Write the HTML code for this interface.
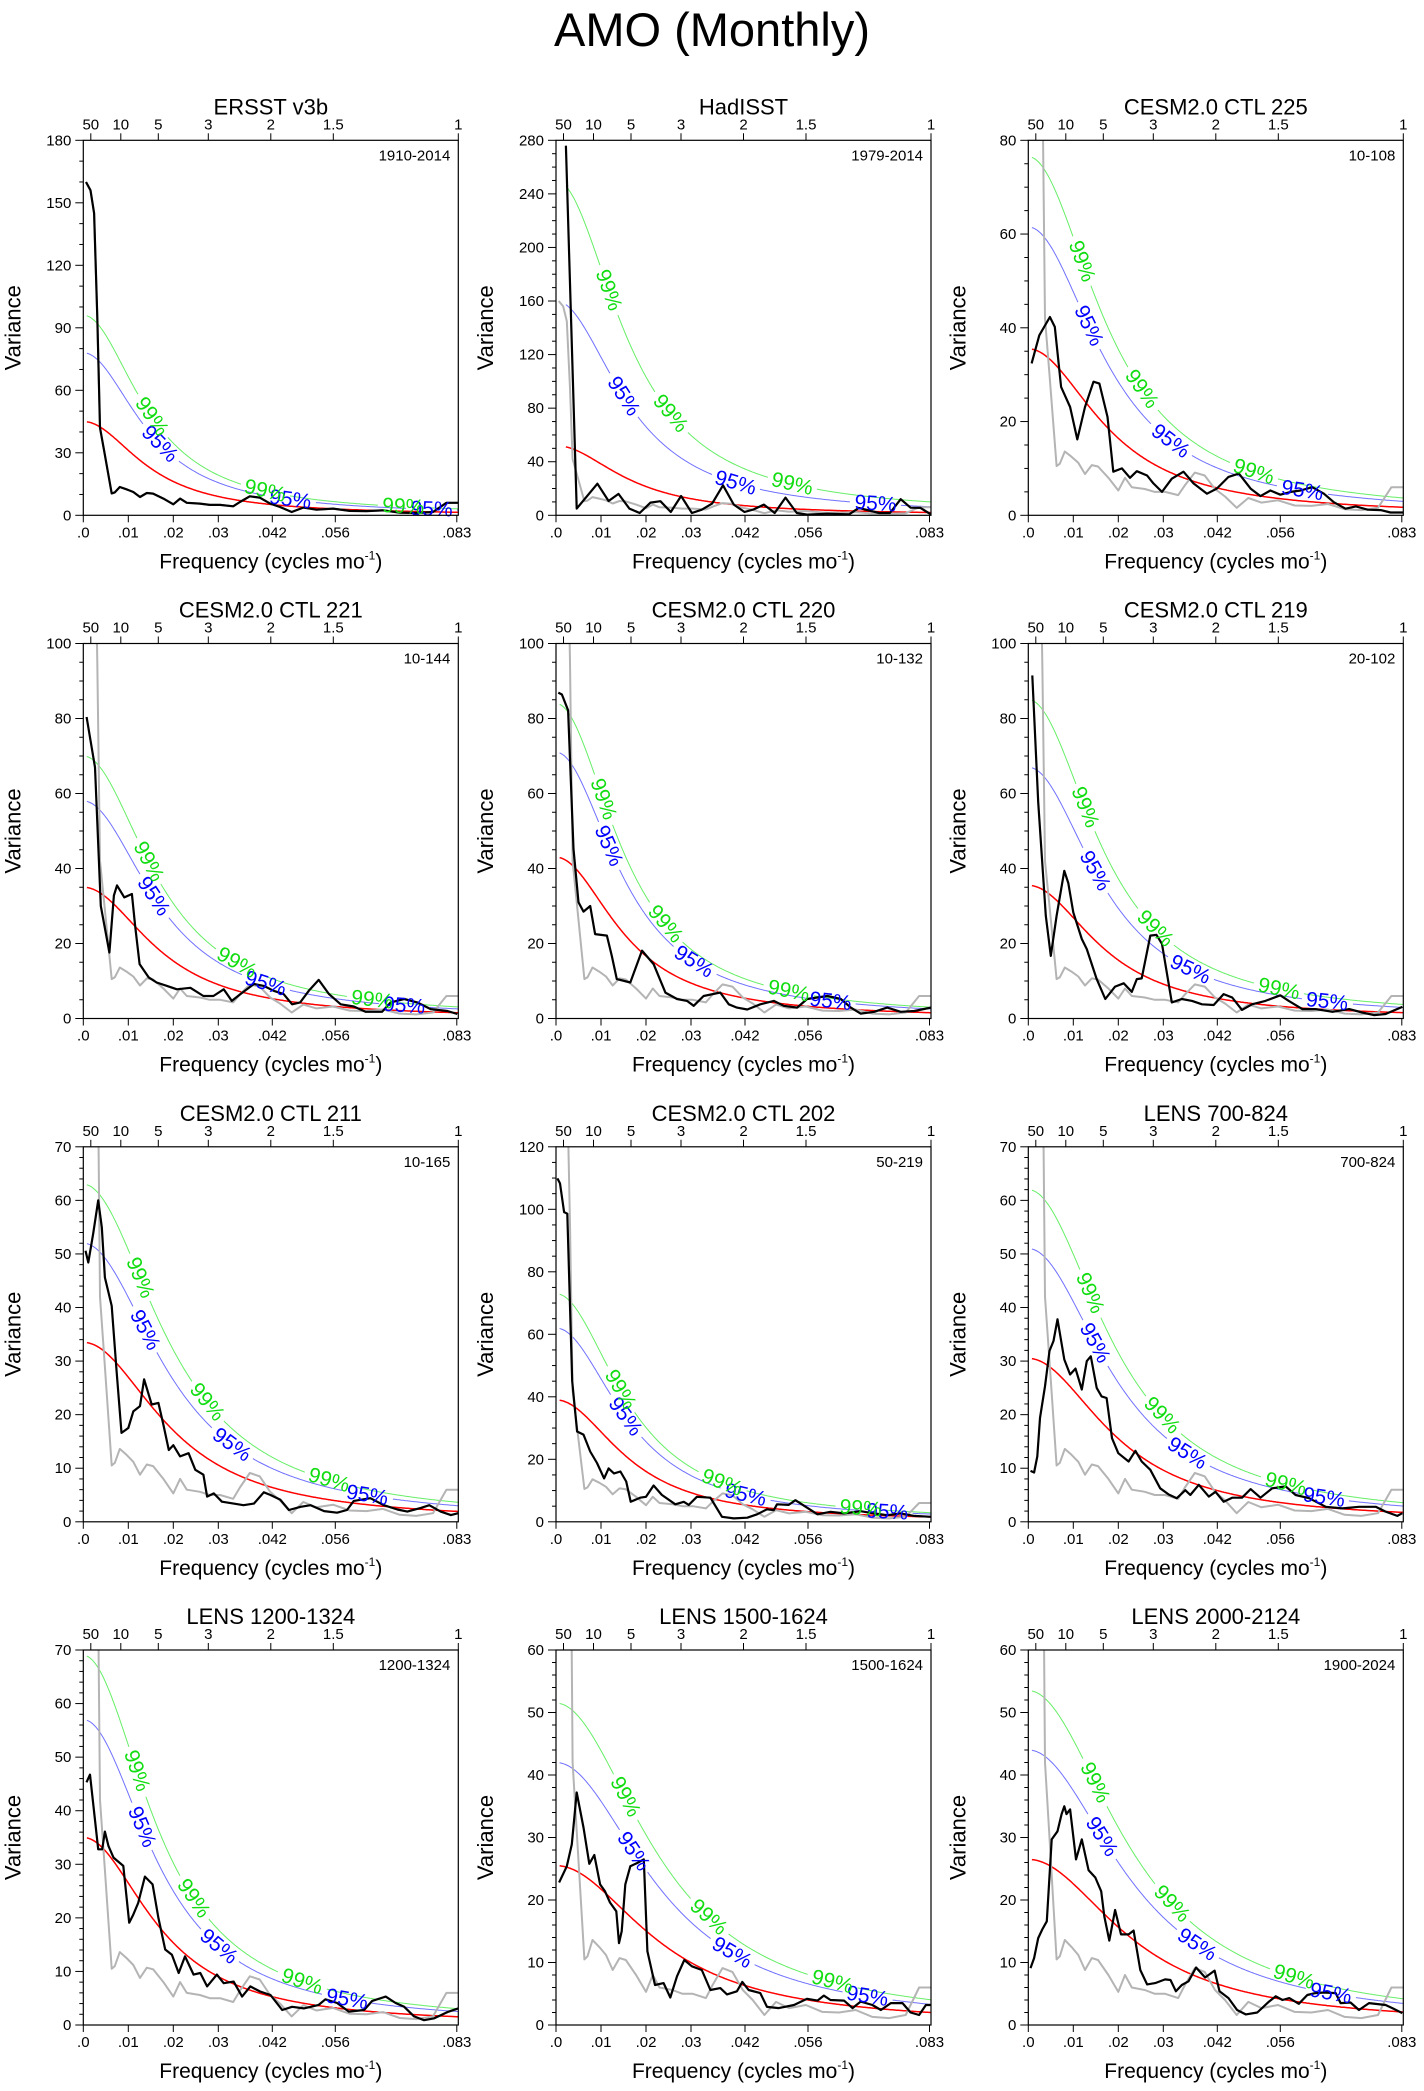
<!DOCTYPE html>
<html><head><meta charset="utf-8">
<style>
html,body{margin:0;padding:0;background:#fff;}
svg{display:block;font-family:"Liberation Sans",Arial,sans-serif;}
</style></head>
<body>
<svg id="chart" width="1424" height="2091" viewBox="0 0 1424 2091" xmlns="http://www.w3.org/2000/svg">
<text x="712" y="46" text-anchor="middle" font-size="47">AMO (Monthly)</text>
</svg>
<script>
// ---- Data (frequency in cycles/month, variance) ----
const f_ersst=[.0006,.0016,.0024,.0031,.0037,.0047,.0063,.007,.0081,.0096,.0111,.0126,.0141,.0155,.0178,.020,.0215,.023,.0259,.0281,.0304,.0333,.0348,.037,.0392,.0415,.0437,.0463,.0489,.0518,.0555,.0592,.0629,.0666,.0703,.074,.0777,.0807,.0833];
const v_ersst=[160,156,145,95,42,30,10.5,11,13.6,12.5,11.2,8.8,10.7,10.4,8,5.3,8,6,5.6,5,5,4.3,6.4,9.1,8.5,5.6,4,1.6,3.7,2.7,3.2,2.1,2,2.4,1.3,1.1,1.6,6,6];
const f_had=[.0022,.0046,.0092,.0117,.0139,.0163,.0186,.021,.0232,.0255,.0278,.0302,.0324,.0347,.0371,.0395,.0419,.044,.0462,.0486,.051,.0535,.0558,.0603,.0651,.0673,.0718,.0742,.0766,.0788,.081,.0833];
const v_had=[276,5,23.6,10.7,16,5,1.7,9.5,10.5,2.5,14.4,1.7,4.2,8.7,22.4,8,2.5,4.5,8,1.7,13.2,1.7,0.5,1.2,0.7,5.5,1.7,1.7,12,5.7,5.5,0.7];
const f_c225=[.00074,.00245,.0048,.0059,.0073,.0093,.0109,.0126,.0145,.0158,.0176,.0189,.0208,.0226,.0241,.0264,.0278,.0297,.0319,.0345,.0367,.0397,.0419,.0445,.0468,.0494,.0516,.0538,.056,.0583,.0605,.0631,.0657,.0679,.0705,.0728,.0754,.0783,.0805,.0833];
const v_c225=[32.4,38.4,42.3,40.2,27.4,23.1,16.2,23.1,28.5,28.1,21,9.3,10,8,9.4,8.5,6.8,5,7.8,9.3,6.8,4.6,5.7,8.2,8.9,5.7,4.1,5.3,4.4,5,5.3,6,4.6,2.8,1.4,1.9,1.2,1.1,0.6,0.6];
const f_c221=[.00074,.0026,.0039,.0058,.0068,.0075,.0091,.0108,.0115,.0125,.0145,.0163,.0186,.0208,.0238,.0267,.0289,.0312,.033,.0349,.0379,.0401,.0423,.0445,.0464,.0482,.0501,.0523,.0546,.0572,.0601,.0627,.0664,.0683,.0713,.0742,.0772,.0809,.0831];
const v_c221=[80.4,67,30,17.6,32.8,35.5,32.3,33.2,24.8,14.5,11,9.6,8.7,7.8,8.2,6,6,7.8,4.7,6.5,9.2,8.7,7.4,6.5,3.8,4.3,7.4,10.3,6.5,3.8,3.2,1.8,1.8,4.3,5.2,4.3,2.5,2,1.2];
const f_c220=[.0005,.0013,.0027,.0039,.005,.0061,.0076,.0087,.0113,.0124,.0135,.0165,.0191,.0217,.0243,.0269,.0291,.0306,.0328,.0365,.0384,.0402,.0425,.0454,.0484,.0506,.0536,.0558,.0603,.0633,.0655,.0677,.0707,.0736,.0766,.0796,.0833];
const v_c220=[86.9,86.4,82.2,45.2,31,28.5,30,22.5,22.1,16.7,10.5,9.6,18.1,14.5,6.9,5.2,4.7,3.4,6,6.9,3.8,2.9,2.4,3.8,4.7,3.4,2.9,5.2,6,5.2,2.9,1.3,1.8,2.9,1.8,2,2.9];
const f_c219=[.0009,.0022,.0039,.005,.0063,.008,.0089,.010,.0119,.013,.0152,.0171,.0193,.0212,.023,.0241,.0252,.0271,.0285,.0297,.0319,.0341,.0364,.0386,.0412,.0434,.0453,.0475,.0497,.0527,.056,.0579,.0609,.0638,.0676,.0713,.0742,.0768,.0794,.0831];
const v_c219=[91.5,57.7,27.4,16.7,27.4,39.4,36.1,28.3,21.2,18.5,10.5,5.2,8.5,9.4,7.1,10.5,10.7,22.1,22.3,19.9,4.3,5.2,4.7,3.8,3.6,6.5,5.6,2.3,3.8,4.7,6.2,4.7,2.5,2.5,1.8,2.5,1.6,0.9,1.2,3.1];
const f_c211=[.0005,.0011,.0022,.0033,.0041,.0048,.0063,.0074,.0085,.010,.0111,.0126,.0135,.0152,.0167,.0178,.019,.020,.0215,.0234,.0249,.0267,.0275,.029,.0308,.0334,.0356,.0379,.0401,.0416,.0438,.0457,.0483,.0505,.0535,.0564,.0586,.0601,.0638,.0668,.0698,.072,.075,.0769,.0794,.0817,.0833];
const v_c211=[50.6,48.4,53.8,60,55,45.6,40.3,28.1,16.6,17.5,20.6,21.6,26.6,21.9,22.2,18.1,13.4,14.3,12.2,12.8,9.7,8.8,4.7,5.3,3.75,3.4,3.1,3.4,5.5,5,4.1,2.2,2.8,3.1,2,1.7,2.2,3.9,4.4,3.1,2.3,1.9,2.6,3.1,1.9,1.25,1.6];
const f_c202=[.0003,.0009,.0018,.0025,.0036,.0047,.0061,.0076,.0091,.0107,.0117,.0129,.0143,.0156,.0166,.0187,.020,.0217,.0235,.0265,.0284,.0295,.0313,.0343,.0369,.0395,.0425,.0447,.0469,.0484,.0491,.0517,.0532,.0558,.0581,.061,.064,.0677,.0707,.0736,.0766,.0796,.0833];
const v_c202=[109.9,108.3,99.1,98.6,45,28.9,27.9,22.5,18.8,13.9,17.1,15.5,16.1,12.9,6.4,7.7,8,11.6,8.6,5.6,6.4,5.4,8,7.7,1.6,1.1,1.3,2.4,4,3.75,5.6,5.4,6.9,4.5,2.4,3.2,2.7,3.4,2.7,2.1,2.7,1.9,1.6];
const f_l700=[.0005,.0013,.002,.0026,.0037,.0047,.0056,.0065,.008,.0093,.0105,.0119,.013,.0139,.0152,.0163,.0174,.0186,.020,.0223,.0238,.0252,.0271,.0293,.0312,.033,.0349,.036,.0379,.0401,.0416,.0434,.0453,.0475,.0494,.0516,.0542,.0572,.0594,.0624,.0661,.0698,.0735,.0772,.0794,.082,.0831];
const v_l700=[9.5,9.2,12.2,19.4,25.3,31.9,33.75,37.8,30.3,27.5,28.6,24.7,30,30.9,25,23.4,23.1,15.6,12.8,11.25,13.25,11.25,9.7,6.25,5.1,4.4,5.9,5,6.9,4.7,5.6,3.75,4.5,4.5,6.1,4.5,6.25,6.6,5,4.4,2.8,2.5,2.8,2.8,1.9,1.1,1.6];
const f_l1200=[.0007,.0015,.0033,.0042,.0048,.0056,.0067,.0089,.0102,.0111,.0122,.0137,.0154,.0167,.0182,.0197,.0212,.0226,.0245,.026,.0275,.0297,.0312,.0334,.0353,.0371,.0393,.0416,.0442,.0464,.049,.0523,.0538,.0564,.059,.0624,.0642,.0672,.0694,.0713,.0735,.0757,.078,.0809,.0833];
const v_l1200=[45.3,46.75,32.8,32.8,36.1,33.4,31.25,29.7,19.1,20.6,22.8,27.7,26.25,20,14.1,13.1,9.7,12.8,9.4,9.7,7.2,9.4,7.8,8.1,5.3,7.2,6.25,5.6,2.8,3.4,3.1,3.75,4.8,4.1,2.5,2.8,4.5,5.3,4.1,3.4,1.6,0.9,1.25,2.4,3.1];
const f_l1500=[.0007,.0024,.0035,.0046,.0061,.0074,.0085,.0098,.0109,.012,.0134,.014,.0146,.0154,.0165,.018,.0195,.0203,.022,.0239,.0254,.0269,.0285,.0302,.0324,.0343,.0365,.038,.0402,.0414,.0428,.0454,.0469,.0495,.0529,.0558,.0581,.0595,.061,.064,.0659,.0677,.0703,.0722,.0744,.077,.0788,.0807,.0822,.0833];
const v_l1500=[22.8,25.4,28.9,37.2,31.6,25.8,27.2,22.5,21.4,19.6,18.2,13.1,15,22.5,25.4,25.9,26.5,11.8,6.4,6.7,4.4,7.8,10.4,9.4,8.8,5.6,5.9,4.9,5.4,6.9,5.6,5.1,2.9,2.7,3.2,4.2,3.9,4.7,4,3.9,2.7,3.75,3.2,2.4,3.5,3.5,2,1.6,3.2,3.2];
const f_l2000=[.0005,.0013,.0022,.0031,.0041,.0052,.0065,.0074,.008,.0085,.0093,.0106,.0119,.0134,.0149,.0162,.0169,.018,.0193,.0206,.0223,.0234,.0249,.0264,.0282,.0304,.0316,.0328,.0341,.0356,.0373,.0393,.0414,.0425,.0445,.0464,.0483,.0509,.0535,.055,.0565,.058,.0601,.062,.0638,.0657,.0683,.0694,.0716,.0735,.0757,.0794,.0809,.0831];
const v_l2000=[9.1,10.7,13.9,15.3,16.6,29.7,31,33.75,35,33.75,34.5,26.5,29.7,24.75,23.6,21.4,17.4,13.5,18.4,14.5,14.5,15.1,8.8,6.5,6.7,7.3,7.2,5.4,6.4,7,9.2,7.6,8.7,5.4,4.3,2.4,1.7,2,3.75,4.6,4,4.3,3.4,4.8,5.1,5.2,5.1,3.5,3.6,2.4,3.5,3.2,2.7,1.9];

const titles=["ERSST v3b","HadISST","CESM2.0 CTL 225","CESM2.0 CTL 221","CESM2.0 CTL 220","CESM2.0 CTL 219","CESM2.0 CTL 211","CESM2.0 CTL 202","LENS 700-824","LENS 1200-1324","LENS 1500-1624","LENS 2000-2124"];
const periods=["1910-2014","1979-2014","10-108","10-144","10-132","20-102","10-165","50-219","700-824","1200-1324","1500-1624","1900-2024"];
const seriesF=[f_ersst,f_had,f_c225,f_c221,f_c220,f_c219,f_c211,f_c202,f_l700,f_l1200,f_l1500,f_l2000];
const seriesV=[v_ersst,v_had,v_c225,v_c221,v_c220,v_c219,v_c211,v_c202,v_l700,v_l1200,v_l1500,v_l2000];
const yMax=[180,280,80,100,100,100,70,120,70,70,60,60];
const yStep=[30,40,20,20,20,20,10,20,10,10,10,10];
const yMinor=[10,10,5,5,5,5,2,5,2,2,2,2];
const redStart=[45,52,35.5,35,43,35.5,33.5,39,30.5,35,25.5,26.5];
const redR=[.91,.90,.89,.895,.905,.895,.88,.90,.88,.895,.86,.86];
const blueStart=[78,160,61.5,58,71,67,52,62,51,57,42,44];
const greenStart=[96,250,76.5,70,84,85,63,73,62,69,51.5,53.5];
const curveStartF=[.0008,.0022,.0008,.0008,.0008,.0008,.0008,.0008,.0008,.0008,.0008,.0008];
const lab99=[[.0152,.0404,.0711],[.0117,.0254,.0525],[.0119,.0252,.0501],[.0145,.0341,.0642],[.0105,.0243,.0517],[.0126,.0282,.0557],[.0126,.0275,.0546],[.0143,.0369,.0677],[.0137,.0297,.0572],[.0119,.0245,.0486],[.0154,.0339,.0614],[.0148,.0319,.059]];
const lab95=[[.017,.046,.0774],[.015,.0399,.071],[.0134,.0316,.0609],[.0156,.0405,.0713],[.0117,.0306,.061],[.0148,.036,.0664],[.0137,.033,.0631],[.0154,.0421,.0736],[.0148,.0353,.0657],[.013,.0301,.0586],[.0172,.0391,.0692],[.0163,.0375,.0672]];
const xTickF=[0,.01,.02,.03,.042,.056,.083];
const xTickLab=[".0",".01",".02",".03",".042",".056",".083"];
const topPeriods=[50,10,5,3,2,1.5,1];

// ---- Layout ----
const NS="http://www.w3.org/2000/svg";
const svg=document.getElementById('chart');
const colL=[83.3,556,1028.3], rowT=[140.3,643.5,1146.8,1650], PW=375, PH=375, FMAX=1/12;
function mk(tag,attrs,parent){const e=document.createElementNS(NS,tag);for(const k in attrs)e.setAttribute(k,attrs[k]);(parent||svg).appendChild(e);return e;}
function redAt(p,f){const r=redR[p];const c=Math.cos(2*Math.PI*f);return redStart[p]*(1-r)*(1-r)/(1-2*r*c+r*r);}

for(let p=0;p<12;p++){
  const L=colL[p%3], T=rowT[Math.floor(p/3)], R=L+PW, B=T+PH;
  const xs=f=>L+f/FMAX*PW, ys=v=>B-v/yMax[p]*PH;
  const g=mk('g',{});
  
  
  const cp=mk('clipPath',{id:'clip'+p},g);
  mk('rect',{x:L,y:T,width:PW,height:PH},cp);
  const t=mk('text',{x:L+PW/2,y:T-26,'text-anchor':'middle','font-size':22},g);t.textContent=titles[p];
  
  
  const pt=mk('text',{x:R-8,y:T+20,'text-anchor':'end','font-size':15},g);pt.textContent=periods[p];
  
  
  for(let v=0;v<=yMax[p]+1e-9;v+=yMinor[p]){const y=ys(v);const major=Math.abs(v/yStep[p]-Math.round(v/yStep[p]))<1e-6;
    mk('line',{x1:L-(major?8:4),x2:L,y1:y,y2:y,stroke:'#000','stroke-width':1},g);
    if(major){const tl=mk('text',{x:L-12,y:y+5,'text-anchor':'end','font-size':15},g);tl.textContent=String(v);
      
      }}
  xTickF.forEach((f,i)=>{const x=xs(f);mk('line',{x1:x,x2:x,y1:B,y2:B+7,stroke:'#000','stroke-width':1},g);
    const tl=mk('text',{x:x,y:B+22,'text-anchor':'middle','font-size':15},g);tl.textContent=xTickLab[i];
    
    });
  topPeriods.forEach(P=>{const x=xs(1/(12*P));mk('line',{x1:x,x2:x,y1:T,y2:T-7,stroke:'#000','stroke-width':1},g);
    const tl=mk('text',{x:x,y:T-11,'text-anchor':'middle','font-size':15},g);tl.textContent=String(P);
    
    });
  const xl=mk('text',{x:L+PW/2,y:B+53,'text-anchor':'middle','font-size':21},g);
  xl.innerHTML='Frequency (cycles mo<tspan font-size="12" dy="-9">-1</tspan><tspan dy="9">)</tspan>';
  
  
  const yl=mk('text',{x:L-63,y:T+PH/2,'text-anchor':'middle','font-size':22,transform:`rotate(-90 ${L-63} ${T+PH/2})`},g);yl.textContent='Variance';
  
  

  const pg=mk('g',{'clip-path':`url(#clip${p})`},g);
  const labels=[];
  function labPos(fac,f){const x=xs(f),y=ys(redAt(p,f)*fac);const x2=xs(f+.0006),y2=ys(redAt(p,f+.0006)*fac);
    return {x,y,ang:Math.atan2(y2-y,x2-x)*180/Math.PI};}
  const curves=[[1,'#ff0000',1.5,null,'red-noise-curve'],[blueStart[p]/redStart[p],'#7070ff',1,lab95[p],'95-percent-curve'],[greenStart[p]/redStart[p],'#66ee66',1,lab99[p],'99-percent-curve']];
  curves.forEach(([fac,col,w,labs,name])=>{
    const lp=labs?labs.map(f=>labPos(fac,f)):[];
    let d='',pen=false;
    for(let x=xs(curveStartF[p]);x<=R+1;x+=1){const f=(x-L)/PW*FMAX;const y=ys(redAt(p,f)*fac);
      const hid=lp.some(q=>Math.hypot(q.x-x,q.y-y)<25);
      if(hid){pen=false;continue;}
      d+=(pen?'L':'M')+x.toFixed(1)+' '+y.toFixed(1);pen=true;}
    const c=mk('path',{d:d,fill:'none',stroke:col,'stroke-width':w},pg);
    
    
    lp.forEach(q=>labels.push([q,col==='#7070ff'?'#0000ff':'#11dd11',col==='#7070ff'?'95%':'99%']));
  });
  function line(F,V,col,w,name){const d=F.map((f,i)=>(i?'L':'M')+xs(f).toFixed(1)+' '+ys(V[i]).toFixed(1)).join('');
    const e=mk('path',{d:d,fill:'none',stroke:col,'stroke-width':w,'stroke-linejoin':'round'},pg);
    
    }
  line(f_ersst,v_ersst,'#b4b4b4',2,'ersst-reference-spectrum');
  line(seriesF[p],seriesV[p],'#000',2.2,'spectrum-line');
  labels.forEach(([q,col,txt])=>{const e=mk('text',{x:q.x,y:q.y,'text-anchor':'middle','dominant-baseline':'central','font-size':21,fill:col,transform:`rotate(${q.ang.toFixed(1)} ${q.x.toFixed(1)} ${q.y.toFixed(1)})`},g);
    e.textContent=txt;
    
    });
  const fr=mk('rect',{x:L,y:T,width:PW,height:PH,fill:'none',stroke:'#000','stroke-width':1.2},g);
  
  
}
</script>
</body></html>
